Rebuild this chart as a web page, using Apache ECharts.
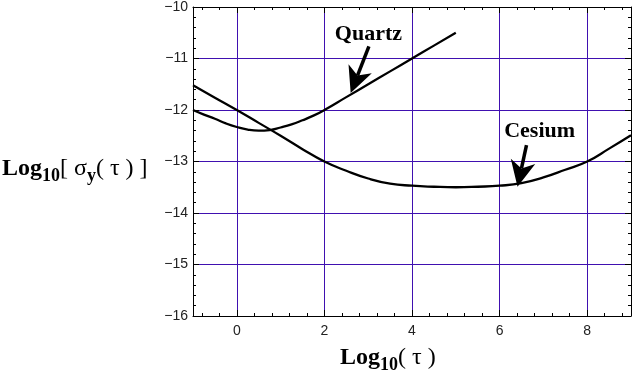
<!DOCTYPE html>
<html><head><meta charset="utf-8">
<script src="https://cdn.jsdelivr.net/npm/echarts@6/dist/echarts.min.js"></script>
<style>html,body{margin:0;padding:0;background:#fff}#c{width:634px;height:374px}</style>
</head><body><div id="c"></div>
<script>
// ---- data ----
const quartzX = [-1, -0.75, -0.5, -0.25, 0, 0.25, 0.5, 0.75, 1, 1.25, 1.5, 1.75, 2, 2.5, 3, 3.5, 4, 4.5, 5];
const quartzY = [-12.00, -12.09, -12.17, -12.26, -12.33, -12.38, -12.40, -12.39, -12.34, -12.28, -12.20, -12.11, -12.00, -11.75, -11.50, -11.25, -11.00, -10.75, -10.50];
const cesiumX = [-1, -0.5, 0, 0.5, 1, 1.5, 2, 2.5, 3, 3.5, 4, 4.5, 5, 5.5, 6, 6.5, 7, 7.5, 8, 8.5, 9];
const cesiumY = [-11.52, -11.76, -12.00, -12.25, -12.50, -12.76, -13.00, -13.18, -13.33, -13.43, -13.47, -13.49, -13.50, -13.49, -13.47, -13.42, -13.31, -13.16, -13.00, -12.75, -12.49];
const xTickLabels = ['0', '2', '4', '6', '8'];
const yTickLabels = ['−16', '−15', '−14', '−13', '−12', '−11', '−10'];
// annotation anchors (data space): label position, arrow tail, arrow tip
const quartzNote = { text: 'Quartz', label: [3.005, -10.535], tail: [3.016, -10.766], tip: [2.60, -11.67] };
const cesiumNote = { text: 'Cesium', label: [6.914, -12.415], tail: [6.614, -12.684], tip: [6.409, -13.49] };

const zip = (xs, ys) => xs.map((x, i) => [x, ys[i]]);

const GRID = '#4010b0';
const tickFont = { fontFamily: 'Liberation Sans', fontSize: 14, color: '#222' };

const chart = echarts.init(document.getElementById('c'), null, { renderer: 'canvas' });

const commonTick = { show: true, inside: true, length: 6, lineStyle: { color: '#000', width: 1 } };
const commonMinor = { show: true, splitNumber: 5, length: 3, lineStyle: { color: '#000', width: 1 } };

chart.setOption({
  animation: false,
  backgroundColor: '#fff',
  grid: { left: 193, right: 1, top: 6, bottom: 58, containLabel: false },
  xAxis: [{
    type: 'value', min: -1, max: 9, splitNumber: 5, position: 'bottom',
    axisLine: { show: true, onZero: false, lineStyle: { color: '#000', width: 1 } },
    axisTick: commonTick, minorTick: commonMinor,
    splitLine: { show: true, showMinLine: false, showMaxLine: false, lineStyle: { color: GRID, width: 1 } },
    axisLabel: Object.assign({ margin: 8, showMinLabel: true, showMaxLabel: true,
      formatter: v => { const s = String(Math.round(v * 1000) / 1000); return xTickLabels.indexOf(s) >= 0 ? s : ''; } }, tickFont)
  }, {
    type: 'value', min: -1, max: 9, splitNumber: 5, position: 'top',
    axisLine: { show: true, onZero: false, lineStyle: { color: '#000', width: 1 } },
    axisTick: commonTick, minorTick: commonMinor,
    splitLine: { show: false }, axisLabel: { show: false }
  }],
  yAxis: [{
    type: 'value', min: -16, max: -10, interval: 1, position: 'left',
    axisLine: { show: true, onZero: false, lineStyle: { color: '#000', width: 1 } },
    axisTick: commonTick, minorTick: commonMinor,
    splitLine: { show: true, showMinLine: false, showMaxLine: false, lineStyle: { color: GRID, width: 1 } },
    axisLabel: Object.assign({ margin: 5,
      formatter: v => yTickLabels[Math.round(v) + 16] || '' }, tickFont)
  }, {
    type: 'value', min: -16, max: -10, interval: 1, position: 'right',
    axisLine: { show: true, onZero: false, lineStyle: { color: '#000', width: 1 } },
    axisTick: commonTick, minorTick: commonMinor,
    splitLine: { show: false }, axisLabel: { show: false }
  }],
  series: [{
    name: 'Quartz', type: 'line', xAxisIndex: 0, yAxisIndex: 0,
    data: zip(quartzX, quartzY), smooth: 0.5, showSymbol: false, symbol: 'none',
    lineStyle: { color: '#000', width: 2.3 }, z: 5
  }, {
    name: 'Cesium', type: 'line', xAxisIndex: 0, yAxisIndex: 0,
    data: zip(cesiumX, cesiumY), smooth: 0.5, showSymbol: false, symbol: 'none',
    lineStyle: { color: '#000', width: 2.3 }, z: 5
  }]
});

// annotations + axis titles
const px = p => chart.convertToPixel({ gridIndex: 0 }, p);
function arrow(note) {
  const t = px(note.tail), h = px(note.tip);
  const dx = h[0] - t[0], dy = h[1] - t[1], len = Math.hypot(dx, dy);
  const ux = dx / len, uy = dy / len, nx = -uy, ny = ux;
  const L = 26, W = 25;
  const notch = [h[0] - ux * L * 0.72, h[1] - uy * L * 0.72];
  const b1 = [h[0] - ux * L + nx * W / 2, h[1] - uy * L + ny * W / 2];
  const b2 = [h[0] - ux * L - nx * W / 2, h[1] - uy * L - ny * W / 2];
  const lp = px(note.label);
  return [
    { type: 'polyline', shape: { points: [t, notch] }, style: { stroke: '#000', lineWidth: 3.5 }, z: 20 },
    { type: 'polygon', shape: { points: [h, b1, notch, b2] }, style: { fill: '#000' }, z: 20 },
    { type: 'text', x: lp[0], y: lp[1], style: { text: note.text, align: 'center', verticalAlign: 'middle',
      font: 'bold 22px "Liberation Serif"', fill: '#000' }, z: 20 }
  ];
}
const rich = {
  a: { fontFamily: 'Liberation Serif', fontWeight: 'bold', fontSize: 24, lineHeight: 34, fill: '#000' },
  s: { fontFamily: 'Liberation Serif', fontWeight: 'bold', fontSize: 18, lineHeight: 20, padding: [14, 0, 0, 0], fill: '#000' },
  r: { fontFamily: 'Liberation Serif', fontSize: 24, lineHeight: 34, fill: '#000' }
};
chart.setOption({
  graphic: [].concat(arrow(quartzNote), arrow(cesiumNote), [
    { type: 'text', x: 2, y: 169, style: { text: '{a|Log}{s|10}{r|[ σ}{s|y}{r|( τ ) ]}', rich: rich, align: 'left', verticalAlign: 'middle' }, z: 20 },
    { type: 'text', x: 340, y: 358, style: { text: '{a|Log}{s|10}{r|( τ )}', rich: rich, align: 'left', verticalAlign: 'middle' }, z: 20 }
  ])
});
</script>
</body></html>
